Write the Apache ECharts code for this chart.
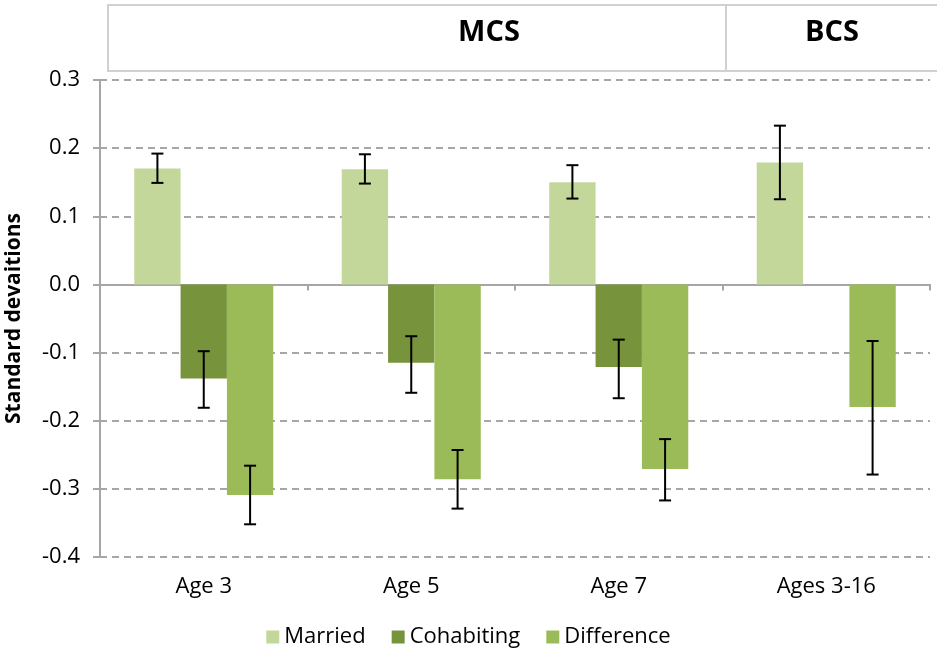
<!DOCTYPE html>
<html>
<head>
<meta charset="utf-8">
<script src="https://cdn.jsdelivr.net/npm/echarts@6/dist/echarts.min.js"></script>
<style>html,body{margin:0;padding:0;background:#fff}#c{width:937px;height:650px}</style>
</head>
<body>
<div id="c"></div>
<script>
var categories = ['Age 3', 'Age 5', 'Age 7', 'Ages 3-16'];
var seriesNames = ['Married', 'Cohabiting', 'Difference'];
var married = [0.170, 0.169, 0.150, 0.179];
var cohabiting = [-0.138, -0.115, -0.121, null];
var difference = [-0.309, -0.286, -0.271, -0.180];
var marriedErr = [[0.149, 0.192], [0.148, 0.191], [0.126, 0.175], [0.125, 0.233]];
var cohabitingErr = [[-0.181, -0.098], [-0.159, -0.076], [-0.167, -0.081], null];
var differenceErr = [[-0.352, -0.266], [-0.329, -0.243], [-0.317, -0.227], [-0.279, -0.083]];
var yTicks = { min: -0.4, max: 0.3, interval: 0.1 };
var groupLabels = ['MCS', 'BCS'];

var colors = ['#c4d79b', '#77933c', '#9bbb59'];
var FONT = '"Open Sans", "Noto Sans", sans-serif';
var GAP = 0.33;

var errData = [];
[marriedErr, cohabitingErr, differenceErr].forEach(function (arr, si) {
  arr.forEach(function (e, ci) {
    if (e) errData.push([ci, e[0], e[1], si]);
  });
});

var chart = echarts.init(document.getElementById('c'));
chart.setOption({
  animation: false,
  color: colors,
  textStyle: { fontFamily: FONT },
  grid: { left: 100, right: 7, top: 80, bottom: 93, containLabel: false, outerBoundsMode: 'none' },
  legend: {
    top: 621, left: 'center',
    icon: 'rect', itemWidth: 13, itemHeight: 13, itemGap: 26,
    textStyle: { fontSize: 22, color: '#000', fontFamily: FONT },
    data: seriesNames
  },
  graphic: [
    { type: 'rect', shape: { x: 108, y: 5, width: 840, height: 66 }, style: { fill: 'none', stroke: '#d0d0d0', lineWidth: 2 } },
    { type: 'line', shape: { x1: 726, y1: 5, x2: 726, y2: 71 }, style: { stroke: '#d0d0d0', lineWidth: 2 } },
    { type: 'text', x: 489, y: 33, style: { text: groupLabels[0], fontSize: 29, fontWeight: 'bold', fill: '#000', fontFamily: FONT, textAlign: 'center', textVerticalAlign: 'middle' } },
    { type: 'text', x: 832, y: 33, style: { text: groupLabels[1], fontSize: 29, fontWeight: 'bold', fill: '#000', fontFamily: FONT, textAlign: 'center', textVerticalAlign: 'middle' } }
  ],
  xAxis: [
    {
      type: 'category', data: categories,
      axisLine: { onZero: true, lineStyle: { color: '#a6a6a6', width: 2 } },
      axisTick: { show: true, length: 6, lineStyle: { color: '#a6a6a6', width: 2 } },
      axisLabel: { show: false }
    },
    {
      type: 'category', data: categories, position: 'bottom',
      axisLine: { show: false, onZero: false },
      axisTick: { show: false },
      axisLabel: { fontSize: 22, color: '#000', margin: 19, fontFamily: FONT }
    }
  ],
  yAxis: {
    type: 'value', min: yTicks.min, max: yTicks.max, interval: yTicks.interval,
    name: 'Standard devaitions', nameLocation: 'middle', nameRotate: 90, nameGap: 75,
    nameTextStyle: { fontSize: 21, fontWeight: 'bold', color: '#000', fontFamily: FONT },
    axisLine: { show: true, lineStyle: { color: '#a6a6a6', width: 2 } },
    axisTick: { show: true, length: 7, lineStyle: { color: '#a6a6a6', width: 2 } },
    axisLabel: { fontSize: 22, color: '#000', margin: 20, fontFamily: FONT,
      formatter: function (v) { return (Math.round(v * 10) / 10).toFixed(1); } },
    splitLine: { show: true, lineStyle: { color: '#a6a6a6', width: 2, type: [7, 5] } }
  },
  series: [
    { name: seriesNames[0], type: 'bar', data: married, barGap: '0%', barCategoryGap: (GAP * 100) + '%' },
    { name: seriesNames[1], type: 'bar', data: cohabiting, barGap: '0%', barCategoryGap: (GAP * 100) + '%' },
    { name: seriesNames[2], type: 'bar', data: difference, barGap: '0%', barCategoryGap: (GAP * 100) + '%' },
    {
      type: 'custom', data: errData, z: 10,
      encode: { x: 0, y: [1, 2] },
      renderItem: function (params, api) {
        var ci = api.value(0), lo = api.value(1), hi = api.value(2), si = api.value(3);
        var band = api.size([1, 0])[0];
        var bw = band * (1 - GAP) / 3;
        var x = api.coord([ci, 0])[0] + (si - 1) * bw;
        var yl = api.coord([ci, lo])[1], yh = api.coord([ci, hi])[1];
        var cap = 6;
        var st = { stroke: '#000', lineWidth: 2 };
        return { type: 'group', children: [
          { type: 'line', shape: { x1: x, y1: yl, x2: x, y2: yh }, style: st },
          { type: 'line', shape: { x1: x - cap, y1: yl, x2: x + cap, y2: yl }, style: st },
          { type: 'line', shape: { x1: x - cap, y1: yh, x2: x + cap, y2: yh }, style: st }
        ] };
      }
    }
  ]
});
</script>
</body>
</html>
